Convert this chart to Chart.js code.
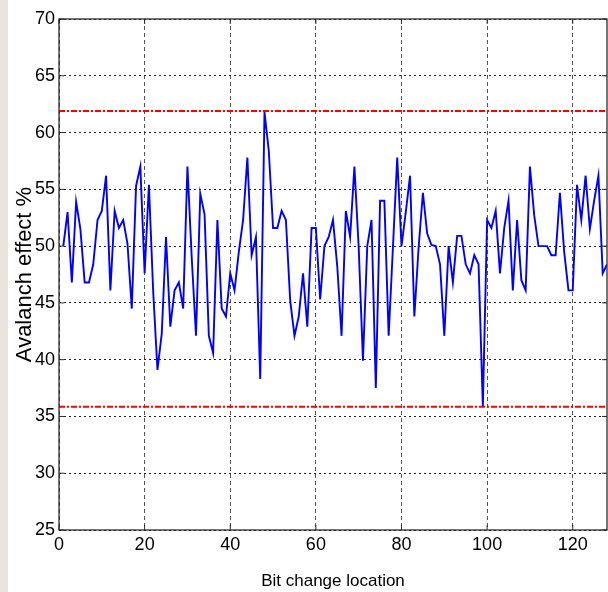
<!DOCTYPE html>
<html>
<head>
<meta charset="utf-8">
<script src="https://cdn.jsdelivr.net/npm/chart.js@4/dist/chart.umd.min.js"></script>
<style>
  body { margin: 0; background: linear-gradient(to right, #ebe3de 0, #ebe3de 8px, #ffffff 8px); }
  #wrap { width: 608px; height: 592px; }
</style>
</head>
<body>
<div id="wrap"><canvas id="myChart" width="608" height="592"></canvas></div>
<script>
// bit positions 1..128
const bitLocation = Array.from({ length: 128 }, (_, i) => i + 1);

// avalanche effect (%), one per bit
const avalanche = [
  50.0, 53.0, 46.8, 53.9, 51.5, 46.8, 46.8, 48.4, 52.3, 53.1,
  56.2, 46.1, 53.1, 51.6, 52.3, 50.2, 44.5, 55.3, 57.0, 47.6,
  55.4, 46.0, 39.1, 42.3, 50.8, 42.9, 46.1, 46.8, 44.5, 57.0,
  49.0, 42.1, 54.6, 52.8, 42.1, 40.6, 52.3, 44.5, 43.8, 47.6,
  46.1, 49.5, 52.3, 57.8, 49.2, 50.8, 38.3, 61.8, 58.4, 51.6,
  51.6, 53.1, 52.3, 45.2, 42.1, 43.8, 47.6, 42.9, 51.6, 51.6,
  45.3, 50.0, 50.8, 52.3, 48.2, 42.1, 53.1, 50.8, 57.0, 49.9,
  39.9, 50.0, 52.3, 37.5, 54.0, 54.0, 42.1, 49.9, 57.8, 50.0,
  53.0, 56.2, 43.8, 49.9, 54.7, 51.1, 50.1, 50.0, 48.4, 42.1,
  50.0, 46.8, 50.9, 50.9, 48.4, 47.6, 49.2, 48.4, 35.9, 52.3,
  51.6, 53.1, 47.6, 51.6, 54.0, 46.1, 52.3, 47.0, 46.1, 57.0,
  52.7, 50.0, 50.0, 50.0, 49.2, 49.2, 54.7, 49.5, 46.1, 46.1,
  55.4, 52.3, 56.2, 51.5, 54.0, 56.2, 47.6, 48.4
];

// limit lines (max / min)
const upperLimit = 61.9;
const lowerLimit = 35.85;

const xMin = 0, xMax = 128;
const yMin = 25, yMax = 70;

const fontFam = "'Liberation Sans', Arial, sans-serif";

const ctx = document.getElementById('myChart');

// matlab style box with inward tick marks
const boxPlugin = {
  id: 'box',
  afterDraw(chart) {
    const c = chart.ctx;
    const a = chart.chartArea;
    const xs = chart.scales.x, ys = chart.scales.y;
    c.save();
    c.strokeStyle = '#2b2b2b';
    c.lineWidth = 1.3;
    c.strokeRect(a.left, a.top, a.right - a.left, a.bottom - a.top);
    c.lineWidth = 1;
    c.beginPath();
    xs.ticks.forEach((t) => {
      const px = xs.getPixelForValue(t.value);
      c.moveTo(px, a.bottom); c.lineTo(px, a.bottom - 5);
      c.moveTo(px, a.top); c.lineTo(px, a.top + 5);
    });
    ys.ticks.forEach((t) => {
      const py = ys.getPixelForValue(t.value);
      c.moveTo(a.left, py); c.lineTo(a.left + 5, py);
      c.moveTo(a.right, py); c.lineTo(a.right - 5, py);
    });
    c.stroke();
    c.restore();
  }
};

const grafico = new Chart(ctx, {
  type: 'line',
  data: {
    datasets: [
      {
        label: 'Avalanch effect',
        data: bitLocation.map((b, i) => ({ x: b, y: avalanche[i] })),
        borderColor: '#0000ff',
        borderWidth: 1.9,
        pointRadius: 0,
        tension: 0
      },
      {
        label: 'max',
        data: [{ x: xMin, y: upperLimit }, { x: xMax, y: upperLimit }],
        borderColor: '#ff0000',
        borderWidth: 2,
        borderDash: [6, 2, 2, 2],
        pointRadius: 0
      },
      {
        label: 'min',
        data: [{ x: xMin, y: lowerLimit }, { x: xMax, y: lowerLimit }],
        borderColor: '#ff0000',
        borderWidth: 2,
        borderDash: [6, 2, 2, 2],
        pointRadius: 0
      }
    ]
  },
  options: {
    responsive: false,
    animation: false,
    layout: { padding: { top: 19, right: 1, left: 0, bottom: 0 } },
    plugins: {
      legend: { display: false },
      tooltip: { enabled: false }
    },
    scales: {
      x: {
        type: 'linear',
        min: xMin,
        max: xMax,
        afterFit: (s) => { s.height = 62; },
        ticks: {
          stepSize: 20,
          includeBounds: false,
          color: '#000',
          padding: 4,
          maxRotation: 0,
          font: { family: fontFam, size: 18 }
        },
        grid: { color: '#555', lineWidth: 1, drawTicks: false },
        border: { display: false, dash: [4, 3] },
        title: {
          display: true,
          text: 'Bit change location',
          color: '#000',
          padding: { top: 4, bottom: 0 },
          font: { family: fontFam, size: 17 }
        }
      },
      y: {
        min: yMin,
        max: yMax,
        afterFit: (s) => { s.width = 59; },
        ticks: {
          stepSize: 5,
          color: '#000',
          padding: 4,
          font: { family: fontFam, size: 18 }
        },
        grid: { color: '#222', lineWidth: 1, drawTicks: false },
        border: { display: false, dash: [2, 3] },
        title: {
          display: true,
          text: 'Avalanch effect %',
          color: '#000',
          padding: { top: 12, bottom: 0 },
          font: { family: fontFam, size: 22 }
        }
      }
    }
  },
  plugins: [boxPlugin]
});
</script>
</body>
</html>
